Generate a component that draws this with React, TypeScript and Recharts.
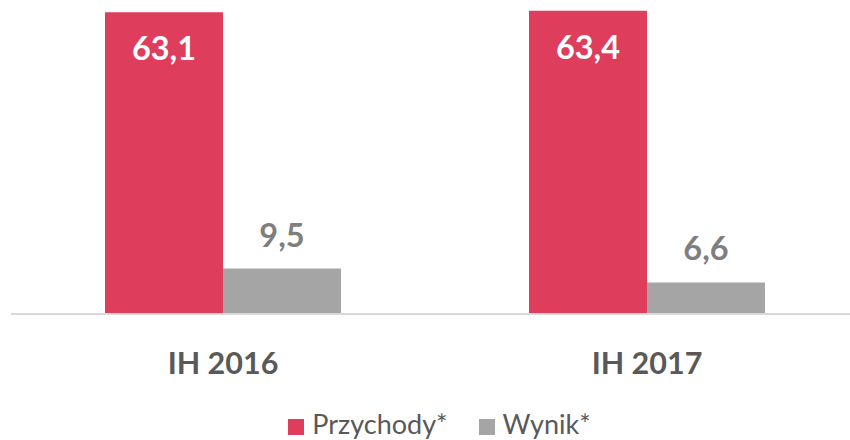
import React from 'react';
import { BarChart, Bar, XAxis, YAxis, Legend, LabelList } from 'recharts';

const categories = ['IH 2016', 'IH 2017'];
const przychody = [63.1, 63.4];
const wynik = [9.5, 6.6];

const data = categories.map((name, i) => ({ name, przychody: przychody[i], wynik: wynik[i] }));

const RED = '#DE3D5C';
const GREY = '#A5A5A5';
const FONT = 'Lato, "Open Sans", sans-serif';

const fmt = (v: number) => v.toFixed(1).replace('.', ',');

const InsideLabel = (props: any) => {
  const { x, y, width, value } = props;
  return (
    <text x={x + width / 2} y={y + 48} textAnchor="middle" fill="#FFFFFF"
      fontSize={32.5} fontWeight={700} fontFamily={FONT}>
      {fmt(value)}
    </text>
  );
};

const AboveLabel = (props: any) => {
  const { x, y, width, value } = props;
  return (
    <text x={x + width / 2} y={y - 22} textAnchor="middle" fill="#7F7F7F"
      fontSize={32.5} fontWeight={700} fontFamily={FONT}>
      {fmt(value)}
    </text>
  );
};

const CategoryTick = (props: any) => {
  const { x, y, payload } = props;
  return (
    <text x={x} y={y} dy={60} textAnchor="middle" fill="#595959"
      fontSize={30.5} fontWeight={700} fontFamily={FONT}>
      {payload.value}
    </text>
  );
};

const legendItems = [
  { label: 'Przychody*', color: RED },
  { label: 'Wynik*', color: GREY },
];

const LegendContent = () => (
  <div style={{ display: 'flex', justifyContent: 'center', paddingTop: 15, fontFamily: FONT }}>
    {legendItems.map((item, i) => (
      <div key={item.label} style={{ display: 'flex', alignItems: 'center', marginLeft: i ? 31 : 0 }}>
        <span style={{ width: 16, height: 16, background: item.color, marginRight: 8, position: 'relative', top: 3 }} />
        <span style={{ fontSize: 27, lineHeight: '30px', color: '#595959' }}>{item.label}</span>
      </div>
    ))}
  </div>
);

export default function App() {
  return (
    <div style={{ position: 'absolute', left: 0, top: 0, width: 850, height: 440, overflow: 'hidden', background: '#fff' }}>
      <BarChart width={870} height={440} data={data} barGap={0}
        margin={{ top: 8, right: 11, left: 11, bottom: 0 }}>
        <XAxis dataKey="name" height={80} axisLine={{ stroke: '#D9D9D9', strokeWidth: 2 }}
          tickLine={false} tickSize={0} tickMargin={0} tick={<CategoryTick />} />
        <YAxis hide domain={[0, 64]} />
        <Legend verticalAlign="bottom" content={<LegendContent />}
          wrapperStyle={{ left: 0, width: 879, height: 46 }} />
        <Bar dataKey="przychody" fill={RED} barSize={118} isAnimationActive={false}>
          <LabelList dataKey="przychody" content={<InsideLabel />} />
        </Bar>
        <Bar dataKey="wynik" fill={GREY} barSize={118} isAnimationActive={false}>
          <LabelList dataKey="wynik" content={<AboveLabel />} />
        </Bar>
      </BarChart>
    </div>
  );
}
